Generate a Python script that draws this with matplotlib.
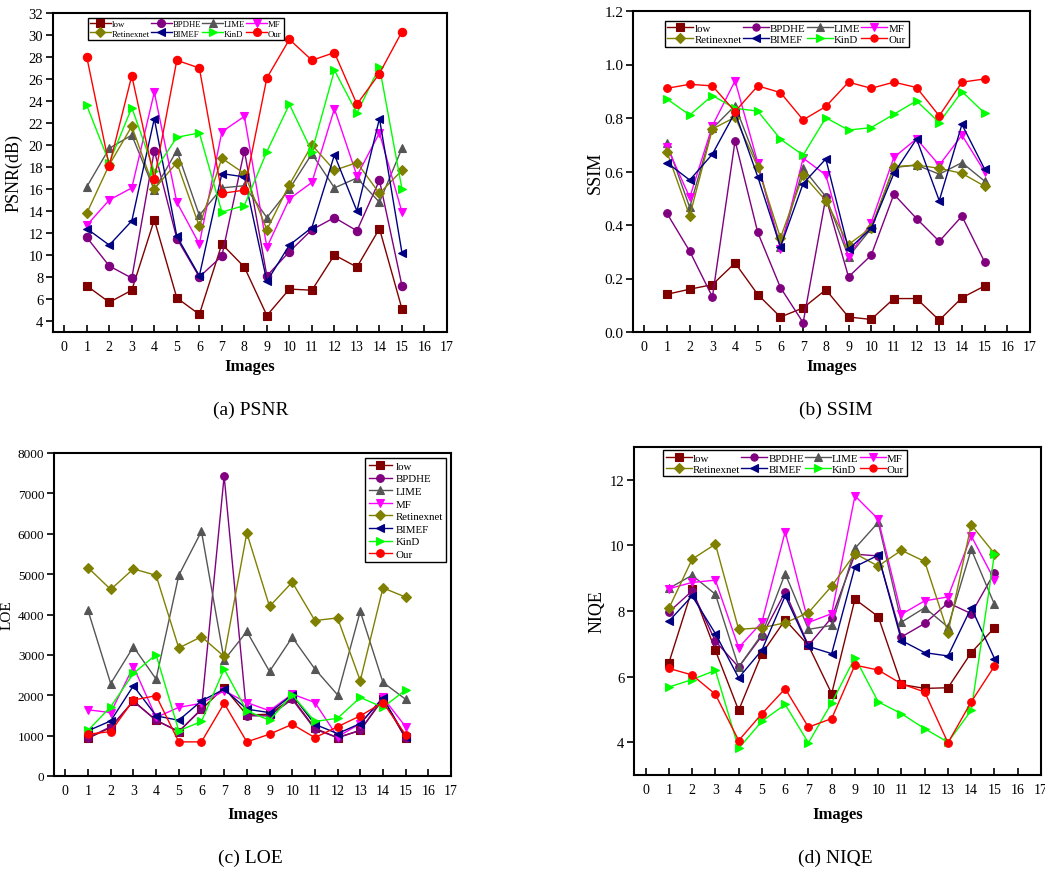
import matplotlib
matplotlib.use("Agg")
import matplotlib.pyplot as plt

plt.rcParams['font.family'] = ['Liberation Serif', 'DejaVu Serif']

images = list(range(1, 16))
methods = ["low", "BPDHE", "LIME", "MF", "Retinexnet", "BIMEF", "KinD", "Our"]
colors = {"low": "#800000", "BPDHE": "#800080", "LIME": "#555555", "MF": "#FF00FF",
          "Retinexnet": "#808000", "BIMEF": "#000080", "KinD": "#00FF00", "Our": "#FF0000"}
markers = {"low": "s", "BPDHE": "o", "LIME": "^", "MF": "v",
           "Retinexnet": "D", "BIMEF": "<", "KinD": ">", "Our": "o"}

# (a) PSNR
psnr_low = [7.2, 5.7, 6.8, 13.2, 6.1, 4.6, 11.0, 8.9, 4.5, 6.9, 6.8, 10.0, 8.9, 12.4, 5.1]
psnr_bpdhe = [11.6, 9.0, 7.9, 19.5, 11.5, 8.0, 9.9, 19.5, 8.1, 10.3, 12.3, 13.4, 12.2, 16.8, 7.2]
psnr_lime = [16.2, 19.7, 20.9, 15.9, 19.5, 13.6, 16.1, 16.3, 13.4, 16.0, 19.2, 16.1, 17.0, 14.8, 19.7]
psnr_mf = [12.7, 15.0, 16.1, 24.8, 14.8, 11.0, 21.2, 22.6, 10.7, 15.1, 16.6, 23.3, 17.2, 21.1, 13.9]
psnr_retinexnet = [13.8, 18.2, 21.7, 16.0, 18.4, 12.6, 18.8, 17.4, 12.3, 16.4, 20.0, 17.7, 18.4, 15.6, 17.7]
psnr_bimef = [12.4, 10.9, 13.1, 22.4, 11.7, 8.1, 17.4, 17.1, 7.6, 10.9, 12.5, 19.1, 14.0, 22.4, 10.2]
psnr_kind = [23.6, 18.4, 23.4, 17.6, 20.7, 21.1, 13.9, 14.5, 19.4, 23.7, 19.4, 26.8, 22.9, 27.1, 16.0]
psnr_our = [28.0, 18.1, 26.3, 16.9, 27.7, 27.0, 15.6, 15.9, 26.1, 29.6, 27.7, 28.4, 23.7, 26.5, 30.3]

# (b) SSIM
ssim_low = [0.141, 0.160, 0.177, 0.258, 0.140, 0.056, 0.090, 0.158, 0.056, 0.047, 0.125, 0.125, 0.044, 0.128, 0.172]
ssim_bpdhe = [0.443, 0.302, 0.131, 0.715, 0.372, 0.166, 0.035, 0.503, 0.206, 0.287, 0.515, 0.424, 0.339, 0.433, 0.262]
ssim_lime = [0.705, 0.466, 0.761, 0.846, 0.627, 0.318, 0.612, 0.506, 0.281, 0.387, 0.615, 0.624, 0.590, 0.633, 0.564]
ssim_mf = [0.693, 0.503, 0.771, 0.939, 0.633, 0.309, 0.650, 0.587, 0.281, 0.409, 0.653, 0.722, 0.624, 0.736, 0.599]
ssim_retinexnet = [0.672, 0.434, 0.759, 0.803, 0.618, 0.352, 0.587, 0.491, 0.327, 0.390, 0.618, 0.624, 0.612, 0.593, 0.545]
ssim_bimef = [0.633, 0.568, 0.665, 0.821, 0.580, 0.318, 0.555, 0.647, 0.309, 0.387, 0.593, 0.722, 0.491, 0.776, 0.609]
ssim_kind = [0.871, 0.811, 0.884, 0.836, 0.826, 0.721, 0.661, 0.801, 0.755, 0.764, 0.814, 0.864, 0.783, 0.899, 0.818]
ssim_our = [0.911, 0.926, 0.920, 0.824, 0.920, 0.895, 0.793, 0.843, 0.934, 0.911, 0.934, 0.914, 0.808, 0.934, 0.946]

# (c) LOE
loe_low = [935, 1200, 1860, 1380, 1100, 1650, 2190, 1510, 1530, 1930, 1180, 950, 1130, 1900, 935]
loe_bpdhe = [950, 1220, 1850, 1380, 1100, 1660, 7430, 1490, 1490, 1900, 1160, 950, 1130, 1930, 935]
loe_lime = [4100, 2290, 3200, 2400, 4970, 6060, 2870, 3580, 2590, 3435, 2650, 2010, 4080, 2320, 1900]
loe_mf = [1640, 1570, 2710, 1450, 1700, 1800, 2110, 1820, 1615, 2030, 1820, 970, 1300, 1945, 1220]
loe_retinexnet = [5160, 4620, 5130, 4970, 3170, 3450, 2960, 6020, 4200, 4800, 3850, 3915, 2360, 4660, 4430]
loe_bimef = [1120, 1365, 2235, 1490, 1380, 1860, 2150, 1655, 1570, 2010, 1280, 1050, 1300, 1930, 970]
loe_kind = [1130, 1715, 2540, 3005, 1120, 1350, 2650, 1615, 1380, 2010, 1350, 1430, 1945, 1700, 2130]
loe_our = [1035, 1100, 1880, 1990, 845, 845, 1800, 845, 1035, 1280, 950, 1220, 1490, 1820, 1020]

# (d) NIQE
niqe_low = [6.42, 8.66, 6.80, 4.97, 6.70, 7.73, 6.95, 5.48, 8.36, 7.83, 5.76, 5.64, 5.66, 6.73, 7.49]
niqe_bpdhe = [7.97, 8.61, 7.08, 6.29, 7.24, 8.58, 6.95, 7.80, 9.73, 9.68, 7.21, 7.62, 8.25, 7.92, 9.17]
niqe_lime = [8.69, 9.09, 8.51, 6.29, 7.29, 9.14, 7.44, 7.56, 9.91, 10.70, 7.66, 8.10, 7.51, 9.88, 8.20]
niqe_mf = [8.68, 8.87, 8.94, 6.88, 7.66, 10.42, 7.65, 7.92, 11.51, 10.80, 7.90, 8.31, 8.43, 10.29, 8.94]
niqe_retinexnet = [8.08, 9.58, 10.04, 7.44, 7.49, 7.64, 7.95, 8.76, 9.75, 9.37, 9.85, 9.51, 7.34, 10.63, 9.75]
niqe_bimef = [7.69, 8.46, 7.31, 5.96, 6.81, 8.46, 6.92, 6.70, 9.35, 9.70, 7.10, 6.73, 6.63, 8.10, 6.55]
niqe_kind = [5.68, 5.91, 6.19, 3.81, 4.64, 5.15, 3.98, 5.20, 6.58, 5.23, 4.87, 4.41, 4.00, 4.97, 9.75]
niqe_our = [6.25, 6.05, 5.46, 4.05, 4.87, 5.63, 4.46, 4.72, 6.35, 6.20, 5.78, 5.53, 3.98, 5.23, 6.32]

x_ticks = list(range(0, 18))

panels = [
    dict(data=[psnr_low, psnr_bpdhe, psnr_lime, psnr_mf, psnr_retinexnet, psnr_bimef, psnr_kind, psnr_our],
         rect=[53/1045, 1-333/870, 394/1045, 319/870], ylim=(3, 32), yticks=list(range(4, 33, 2)),
         ylabel="PSNR(dB)", ylfs=13, caption="(a) PSNR", cap_xy=(251, 410), xlab_y=367,
         ylab_x=14, legend=dict(loc="upper left", bbox=(0.088, 0.985), ncol=4, fs=6.3, hl=2.4),
         ms=6.0, yfmt=None, ytfs=10.5),
    dict(data=[ssim_low, ssim_bpdhe, ssim_lime, ssim_mf, ssim_retinexnet, ssim_bimef, ssim_kind, ssim_our],
         rect=[633/1045, 1-333/870, 397/1045, 321/870], ylim=(0, 1.2), yticks=[0, 0.2, 0.4, 0.6, 0.8, 1.0, 1.2],
         ylabel="SSIM", ylfs=13, caption="(b) SSIM", cap_xy=(836, 410), xlab_y=367,
         ylab_x=595, legend=dict(loc="upper left", bbox=(0.080, 0.970), ncol=4, fs=7.8, hl=2.4),
         ms=5.5, yfmt="%.1f", ytfs=11),
    dict(data=[loe_low, loe_bpdhe, loe_lime, loe_mf, loe_retinexnet, loe_bimef, loe_kind, loe_our],
         rect=[54/1045, 1-777/870, 397/1045, 323/870], ylim=(0, 8000), yticks=list(range(0, 8001, 1000)),
         ylabel="LOE", ylfs=11, caption="(c) LOE", cap_xy=(250, 858), xlab_y=815,
         ylab_x=7, legend=dict(loc="upper right", bbox=(0.988, 0.985), ncol=1, fs=7.8, hl=2.2),
         ms=5.5, yfmt=None, ytfs=9.5),
    dict(data=[niqe_low, niqe_bpdhe, niqe_lime, niqe_mf, niqe_retinexnet, niqe_bimef, niqe_kind, niqe_our],
         rect=[634/1045, 1-776/870, 407/1045, 328/870], ylim=(3, 13), yticks=[4, 6, 8, 10, 12],
         ylabel="NIQE", ylfs=13, caption="(d) NIQE", cap_xy=(835, 858), xlab_y=815,
         ylab_x=597, legend=dict(loc="upper left", bbox=(0.071, 0.99), ncol=4, fs=7.8, hl=2.4),
         ms=5.5, yfmt=None, ytfs=10.5),
]

fig = plt.figure(figsize=(10.45, 8.7), dpi=100)

for p in panels:
    ax = fig.add_axes(p["rect"])
    handles = []
    for name, vals in zip(methods, p["data"]):
        ms = p["ms"] * (0.9 if markers[name] == "D" else 1.0)
        h, = ax.plot(images, vals, color=colors[name], marker=markers[name],
                     markersize=ms, linewidth=1.0, markeredgewidth=0.8,
                     markeredgecolor=colors[name], markerfacecolor=colors[name], label=name)
        handles.append(h)
    ax.set_xlim(-0.5, 17)
    ax.set_ylim(*p["ylim"])
    ax.set_xticks(x_ticks)
    ax.set_yticks(p["yticks"])
    if p["yfmt"]:
        ax.set_yticklabels([p["yfmt"] % v for v in p["yticks"]])
    ax.tick_params(axis="x", direction="in", length=5, width=1.2, labelsize=10, pad=6)
    ax.tick_params(axis="y", direction="out", length=5, width=1.2, labelsize=p["ytfs"], pad=2)
    for s in ax.spines.values():
        s.set_linewidth(1.5)
    fig.text(p["cap_xy"][0]/1045, 1-p["cap_xy"][1]/870, p["caption"], ha="center", va="center", fontsize=14)
    cx = (p["rect"][0] + p["rect"][2]/2)
    fig.text(cx, 1-p["xlab_y"]/870, "Images", ha="center", va="center", fontsize=12, fontweight="bold")
    fig.text(p["ylab_x"]/1045, p["rect"][1] + p["rect"][3]/2, p["ylabel"], ha="center", va="center",
             rotation=90, fontsize=p["ylfs"])
    lg = p["legend"]
    if lg["ncol"] == 4:
        order = [handles[0], handles[4], handles[1], handles[5], handles[2], handles[6], handles[3], handles[7]]
        leg = ax.legend(handles=order, loc=lg["loc"], bbox_to_anchor=lg["bbox"], ncol=4,
                        fontsize=lg["fs"], frameon=True, fancybox=False, edgecolor="black",
                        framealpha=1, borderpad=0.25, handlelength=lg["hl"], handletextpad=0.1,
                        columnspacing=0.1, labelspacing=0.15, markerscale=0.95, borderaxespad=0)
    else:
        leg = ax.legend(handles=handles, loc=lg["loc"], bbox_to_anchor=lg["bbox"], ncol=1,
                        fontsize=lg["fs"], frameon=True, fancybox=False, edgecolor="black",
                        framealpha=1, borderpad=0.3, handlelength=lg["hl"], handletextpad=0.3,
                        labelspacing=0.28, markerscale=1.0, borderaxespad=0)
    leg.get_frame().set_linewidth(1.0)

fig.savefig("out.png", dpi=100)
